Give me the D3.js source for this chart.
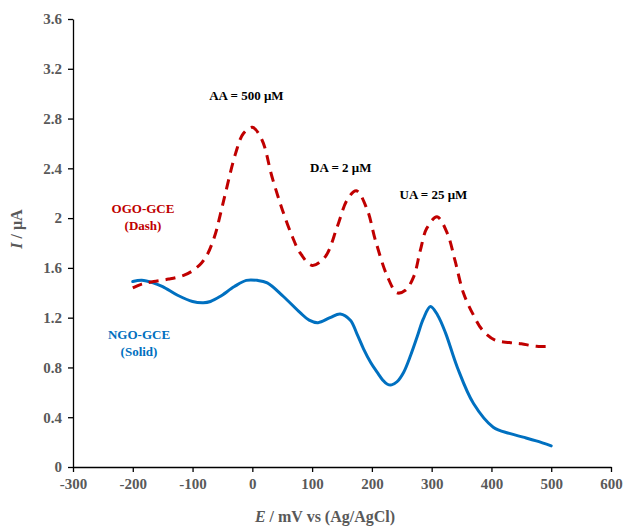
<!DOCTYPE html>
<html>
<head>
<meta charset="utf-8">
<script src="https://cdn.jsdelivr.net/npm/d3@7"></script>
<style>
  html, body { margin: 0; padding: 0; background: #fff; }
  svg { display: block; }
  text { font-family: "Liberation Serif", "Times New Roman", serif; font-weight: bold; }
</style>
</head>
<body>
<svg id="chart" width="624" height="528"></svg>
<script>
// ---- Data ----
const xTicks = [-300, -200, -100, 0, 100, 200, 300, 400, 500, 600];
const yTicks = [0, 0.4, 0.8, 1.2, 1.6, 2, 2.4, 2.8, 3.2, 3.6];

// OGO-GCE (dashed, red)
const ogoE = [-200, -185, -165, -140, -115, -99, -85, -75, -62, -54, -45, -28, -15, 0, 16, 33, 50, 67, 80, 100, 122, 142, 159, 174, 192, 206, 226, 242, 256, 270, 281, 292, 309, 326, 339, 353, 370, 385, 406, 430, 450, 475, 500];
const ogoI = [1.44, 1.47, 1.49, 1.51, 1.54, 1.58, 1.64, 1.71, 1.87, 2.02, 2.20, 2.52, 2.68, 2.73, 2.63, 2.33, 2.07, 1.85, 1.72, 1.62, 1.69, 1.93, 2.15, 2.22, 2.07, 1.82, 1.53, 1.40, 1.42, 1.53, 1.74, 1.92, 2.01, 1.88, 1.66, 1.40, 1.22, 1.10, 1.02, 1.00, 0.99, 0.97, 0.97];

// NGO-GCE (solid, blue)
const ngoE = [-200, -185, -166, -150, -125, -100, -82, -70, -54, -30, -10, 8, 25, 52, 80, 95, 110, 130, 147, 164, 175, 186, 198, 209, 218, 226, 233, 242, 253, 265, 276, 286, 298, 310, 323, 343, 370, 403, 430, 453, 475, 500];
const ngoI = [1.49, 1.50, 1.48, 1.45, 1.38, 1.33, 1.32, 1.33, 1.37, 1.45, 1.50, 1.50, 1.48, 1.37, 1.24, 1.18, 1.16, 1.20, 1.23, 1.18, 1.07, 0.95, 0.84, 0.76, 0.70, 0.665, 0.66, 0.685, 0.76, 0.90, 1.05, 1.19, 1.29, 1.22, 1.08, 0.80, 0.51, 0.32, 0.27, 0.24, 0.21, 0.17];

const peakLabels = [
  { text: "AA = 500 μM", e: -10, i: 2.95 },
  { text: "DA = 2 μM", e: 148, i: 2.37 },
  { text: "UA = 25 μM", e: 303, i: 2.15 }
];

// ---- Layout ----
const svg = d3.select("#chart");
const x = d3.scaleLinear().domain([-300, 600]).range([73, 611]);
const y = d3.scaleLinear().domain([0, 3.6]).range([467, 19]);

const tickColor = "#595959";

// X axis
const xAxis = svg.append("g")
  .attr("transform", `translate(0,${y(0)})`)
  .call(d3.axisBottom(x).tickValues(xTicks).tickFormat(d => String(d)).tickSize(5).tickSizeOuter(0).tickPadding(6));
xAxis.select(".domain").attr("stroke", "#000").attr("stroke-width", 1.3);
xAxis.selectAll(".tick line").attr("stroke", "#000").attr("stroke-width", 1.3);
xAxis.selectAll(".tick text")
  .attr("fill", tickColor)
  .style("font-size", "15px")
  .style("font-family", "'Liberation Serif', serif")
  .style("font-weight", "bold");

// Y axis
const yAxis = svg.append("g")
  .attr("transform", `translate(${x(-300)},0)`)
  .call(d3.axisLeft(y).tickValues(yTicks).tickFormat(d => String(+d.toFixed(1))).tickSize(5).tickSizeOuter(0).tickPadding(6));
yAxis.select(".domain").attr("stroke", "#000").attr("stroke-width", 1.3);
yAxis.selectAll(".tick line").attr("stroke", "#000").attr("stroke-width", 1.3);
yAxis.selectAll(".tick text")
  .attr("fill", tickColor)
  .style("font-size", "15px")
  .style("font-family", "'Liberation Serif', serif")
  .style("font-weight", "bold");

// Lines
const line = d3.line()
  .x(d => x(d[0]))
  .y(d => y(d[1]))
  .curve(d3.curveCatmullRom.alpha(0.5));

svg.append("path")
  .datum(ngoE.map((e, k) => [e, ngoI[k]]))
  .attr("fill", "none")
  .attr("stroke", "#0070c0")
  .attr("stroke-width", 3)
  .attr("stroke-linecap", "round")
  .attr("d", line);

svg.append("path")
  .datum(ogoE.map((e, k) => [e, ogoI[k]]))
  .attr("fill", "none")
  .attr("stroke", "#c00000")
  .attr("stroke-width", 3)
  .attr("stroke-dasharray", "10,7")
  .attr("d", line);

// Peak labels
svg.selectAll("text.peak")
  .data(peakLabels)
  .enter().append("text")
  .attr("class", "peak")
  .attr("x", d => x(d.e))
  .attr("y", d => y(d.i))
  .attr("text-anchor", "middle")
  .attr("fill", "#000")
  .style("font-size", "13px")
  .text(d => d.text);

// Series labels
function seriesLabel(lines, cx, y0, color) {
  const t = svg.append("text")
    .attr("x", cx).attr("y", y0)
    .attr("text-anchor", "middle")
    .attr("fill", color)
    .style("font-size", "13px");
  lines.forEach((s, k) => {
    t.append("tspan").attr("x", cx).attr("dy", k === 0 ? 0 : 17).text(s);
  });
}
seriesLabel(["OGO-GCE", "(Dash)"], 143, 213, "#c00000");
seriesLabel(["NGO-GCE", "(Solid)"], 139, 339, "#0070c0");

// Axis titles
const xt = svg.append("text")
  .attr("x", 325).attr("y", 522)
  .attr("text-anchor", "middle")
  .attr("fill", tickColor)
  .style("font-size", "16px");
xt.append("tspan").style("font-style", "italic").text("E");
xt.append("tspan").text(" / mV vs (Ag/AgCl)");

const yt = svg.append("text")
  .attr("transform", "translate(22,229) rotate(-90)")
  .attr("text-anchor", "middle")
  .attr("fill", tickColor)
  .style("font-size", "16px");
yt.append("tspan").style("font-style", "italic").text("I");
yt.append("tspan").text(" / μA");
</script>
</body>
</html>
